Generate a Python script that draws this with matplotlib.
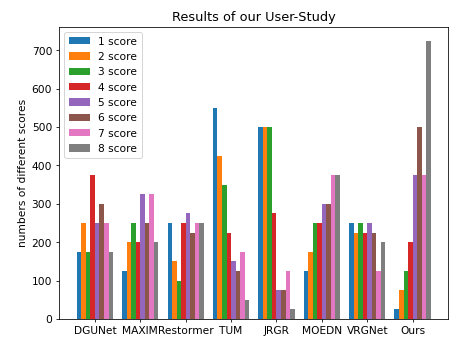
import numpy as np
import matplotlib.pyplot as plt

methods = ["DGUNet", "MAXIM", "Restormer", "TUM", "JRGR", "MOEDN", "VRGNet", "Ours"]
score_names = ["1 score", "2 score", "3 score", "4 score", "5 score", "6 score", "7 score", "8 score"]

# rows: score level, columns: method
counts = [
    [175, 125, 250, 550, 500, 125, 250, 25],
    [250, 200, 150, 425, 500, 175, 225, 75],
    [175, 250, 100, 350, 500, 250, 250, 125],
    [375, 200, 250, 225, 275, 250, 225, 200],
    [250, 325, 275, 150, 75, 300, 250, 375],
    [300, 250, 225, 125, 75, 300, 225, 500],
    [250, 325, 250, 175, 125, 375, 125, 375],
    [175, 200, 250, 50, 25, 375, 200, 725],
]

plt.rcParams["font.size"] = 10.8

x = np.arange(len(methods))
w = 0.1

fig, ax = plt.subplots(figsize=(6.4, 4.78), dpi=71)
for i in range(len(counts)):
    ax.bar(x + (i - 3.5) * w, counts[i], w, label=score_names[i])

ax.set_xticks(x)
ax.set_xticklabels(methods)
ax.set_ylabel("numbers of different scores")
ax.set_title("Results of our User-Study", fontsize=13)
ax.legend(loc="upper left")
plt.subplots_adjust(left=0.13, right=0.987, top=0.92, bottom=0.059)
plt.savefig("out.png")
